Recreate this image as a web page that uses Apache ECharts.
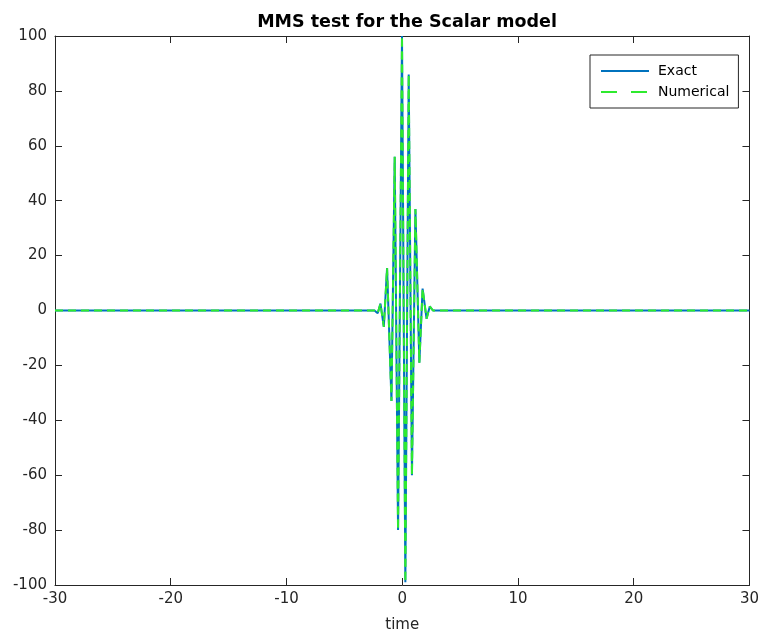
<!DOCTYPE html>
<html>
<head>
<meta charset="utf-8">
<script src="https://cdn.jsdelivr.net/npm/echarts@6/dist/echarts.min.js"></script>
<style>html,body{margin:0;padding:0;background:#fff;}#c{width:762px;height:638px;}</style>
</head>
<body>
<div id="c"></div>
<script>
const timeExact = [-30, -2.4, -2.12, -1.88, -1.59, -1.31, -0.93, -0.65, -0.36, -0.02, 0.27, 0.56, 0.84, 1.14, 1.48, 1.76, 2.1, 2.38, 2.65, 30];
const valuesExact = [0, 0, -1, 2.5, -6, 15.5, -33, 56, -80, 100, -99, 86, -60, 37, -19, 8, -3, 1.5, 0, 0];
const timeNumerical = [-30, -2.4, -2.12, -1.88, -1.59, -1.31, -0.93, -0.65, -0.36, -0.02, 0.27, 0.56, 0.84, 1.14, 1.48, 1.76, 2.1, 2.38, 2.65, 30];
const valuesNumerical = [0, 0, -1, 2.5, -6, 15.5, -33, 56, -80, 100, -99, 86, -60, 37, -19, 8, -3, 1.5, 0, 0];
const xTicks = [-30, -20, -10, 0, 10, 20, 30];
const yTicks = [-100, -80, -60, -40, -20, 0, 20, 40, 60, 80, 100];

const FONT = 'DejaVu Sans';
const AX = '#262626';
const pair = (a, b) => a.map((v, i) => [v, b[i]]);

const chart = echarts.init(document.getElementById('c'), null, {renderer: 'canvas'});
const axisCommon = {
  type: 'value',
  axisLine: {show: true, onZero: false, lineStyle: {color: AX, width: 1}},
  axisTick: {show: true, inside: true, length: 7, lineStyle: {color: AX}},
  splitLine: {show: false},
};
chart.setOption({
  backgroundColor: '#ffffff',
  animation: false,
  title: {
    text: 'MMS test for the Scalar model',
    left: 402, top: 8, textAlign: 'center',
    textStyle: {fontFamily: FONT, fontSize: 17.5, fontWeight: 'bold', color: '#000'}
  },
  grid: {left: 55, right: 10, top: 36, bottom: 53, containLabel: false},
  legend: {
    orient: 'vertical',
    left: 590, top: 55,
    padding: [9, 9, 9, 10],
    itemGap: 7,
    itemWidth: 48, itemHeight: 14,
    borderColor: AX, borderWidth: 1,
    backgroundColor: '#fff',
    itemStyle: {opacity: 0},
    textStyle: {fontFamily: FONT, fontSize: 14, color: '#000', padding: [0, 0, 0, 4]},
    data: [
      {name: 'Exact'},
      {name: 'Numerical', lineStyle: {type: [16, 14]}}
    ]
  },
  xAxis: [
    Object.assign({}, axisCommon, {
      min: -30, max: 30, interval: 10, position: 'bottom',
      name: 'time', nameLocation: 'middle', nameGap: 33,
      nameTextStyle: {fontFamily: FONT, fontSize: 15, color: AX},
      axisLabel: {fontFamily: FONT, fontSize: 15, color: AX, margin: 7,
        formatter: v => xTicks.includes(v) ? String(v) : ''}
    }),
    Object.assign({}, axisCommon, {
      min: -30, max: 30, interval: 10, position: 'top', axisLabel: {show: false}
    })
  ],
  yAxis: [
    Object.assign({}, axisCommon, {
      min: -100, max: 100, interval: 20, position: 'left',
      axisLabel: {fontFamily: FONT, fontSize: 15, color: AX, margin: 8,
        formatter: v => yTicks.includes(v) ? String(v) : ''}
    }),
    Object.assign({}, axisCommon, {
      min: -100, max: 100, interval: 20, position: 'right', axisLabel: {show: false}
    })
  ],
  series: [
    {
      name: 'Exact', type: 'line', xAxisIndex: 0, yAxisIndex: 0,
      data: pair(timeExact, valuesExact),
      symbol: 'none', lineStyle: {color: '#0072BD', width: 2},
      itemStyle: {color: '#0072BD'}
    },
    {
      name: 'Numerical', type: 'line', xAxisIndex: 0, yAxisIndex: 0,
      data: pair(timeNumerical, valuesNumerical),
      symbol: 'none', lineStyle: {color: '#2eea2e', width: 2, type: [8, 5]},
      itemStyle: {color: '#2eea2e'}
    }
  ]
});
</script>
</body>
</html>
